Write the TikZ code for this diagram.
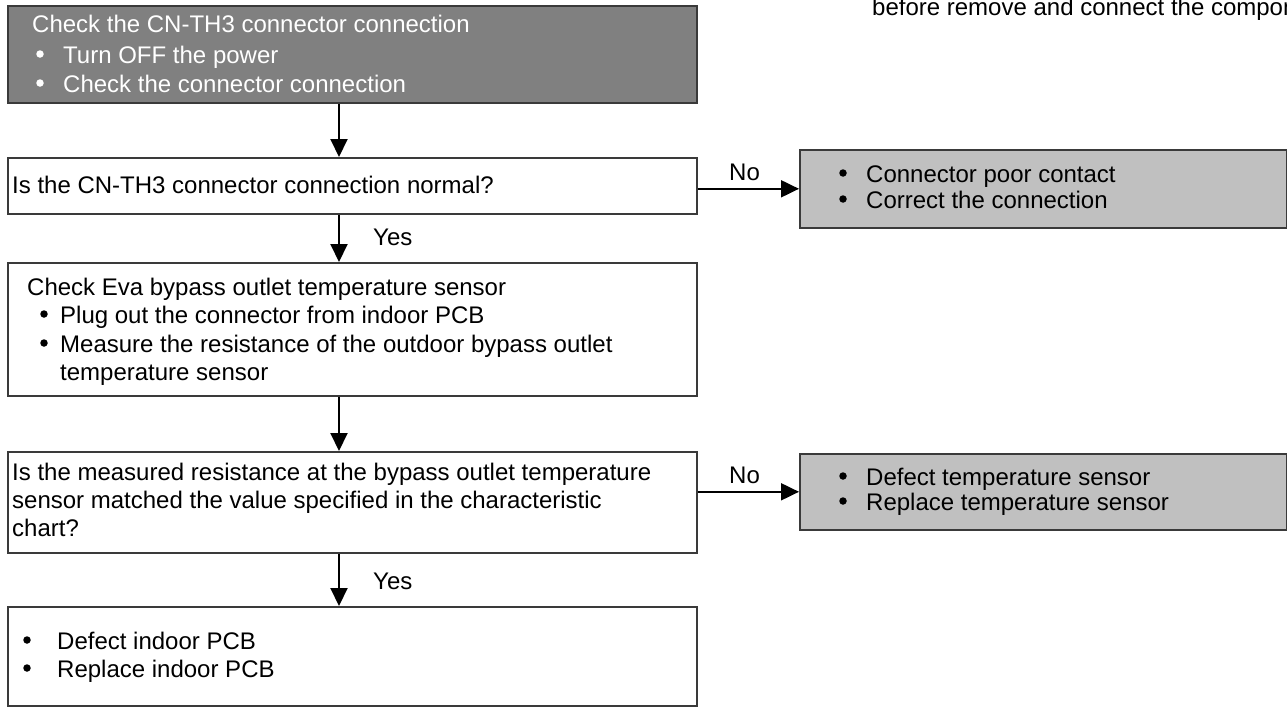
\documentclass[tikz,border=0pt]{standalone}
\usepackage{fontspec}
\setmainfont{Liberation Sans}
\usetikzlibrary{arrows.meta}
\definecolor{boxline}{HTML}{3A3A3A}
\definecolor{darkfill}{HTML}{808080}
\definecolor{lightfill}{HTML}{C0C0C0}
\begin{document}
\begin{tikzpicture}[x=1pt,y=-1pt,
  box/.style={draw=boxline, line width=1.6pt, anchor=north west, inner sep=0pt, fill=white},
  darkbox/.style={box, fill=darkfill},
  lightbox/.style={box, fill=lightfill},
  txt/.style={anchor=base west, inner sep=0pt, font=\fontsize{24}{29}\selectfont},
  bul/.style={circle, fill=black, draw=none, inner sep=0pt, minimum size=7.5pt},
  conn/.style={line width=2pt, -{Triangle[length=18pt,width=17pt]}}
]
\path[use as bounding box] (0,0) rectangle (1287,707);
\clip (0,0) rectangle (1287,707);

% boxes
\node[darkbox, minimum width=689pt, minimum height=97pt] (b1) at (7,5) {};
\node[box, minimum width=689pt, minimum height=56pt] (b2) at (7,157) {};
\node[box, minimum width=689pt, minimum height=133pt] (b3) at (7,262) {};
\node[box, minimum width=689pt, minimum height=101pt] (b4) at (7,451) {};
\node[box, minimum width=689pt, minimum height=99pt] (b5) at (7,606) {};
\node[lightbox, minimum width=487pt, minimum height=78pt] (r1) at (799,149) {};
\node[lightbox, minimum width=487pt, minimum height=76pt] (r2) at (799,453) {};

% top-right note (cut off by the picture edge, as in the source)
\node[txt] (note) at (872,15) {before remove and connect the components};

% box 1 text
\node[txt, text=white] (t1) at (32,32) {Check the CN-TH3 connector connection};
\node[bul, fill=white] (t1b1) at (40,54) {};
\node[txt, text=white] (t1a) at (63,63) {Turn OFF the power};
\node[bul, fill=white] (t1b2) at (40,83) {};
\node[txt, text=white] (t1c) at (63,92) {Check the connector connection};

% box 2 text
\node[txt] (t2) at (12,193) {Is the CN-TH3 connector connection normal?};

% box 3 text
\node[txt] (t3) at (27,295) {Check Eva bypass outlet temperature sensor};
\node[bul] (t3b1) at (44,314) {};
\node[txt] (t3a) at (60,323) {Plug out the connector from indoor PCB};
\node[bul] (t3b2) at (44,343) {};
\node[txt] (t3c) at (60,352) {Measure the resistance of the outdoor bypass outlet};
\node[txt] (t3d) at (60,380) {temperature sensor};

% box 4 text
\node[txt] (t4a) at (12,480) {Is the measured resistance at the bypass outlet temperature};
\node[txt] (t4b) at (12,508) {sensor matched the value specified in the characteristic};
\node[txt] (t4c) at (12,536) {chart?};

% box 5 text
\node[bul] (t5b1) at (27,640) {};
\node[txt] (t5a) at (57,649) {Defect indoor PCB};
\node[bul] (t5b2) at (27,668) {};
\node[txt] (t5c) at (57,677) {Replace indoor PCB};

% right box texts
\node[bul] (r1b1) at (843,173) {};
\node[txt] (r1a) at (866,182) {Connector poor contact};
\node[bul] (r1b2) at (843,199) {};
\node[txt] (r1c) at (866,208) {Correct the connection};
\node[bul] (r2b1) at (843,476) {};
\node[txt] (r2a) at (866,485) {Defect temperature sensor};
\node[bul] (r2b2) at (843,501) {};
\node[txt] (r2c) at (866,510) {Replace temperature sensor};

% connectors
\coordinate (ax) at (339,0);
\draw[conn] (b1.south -| ax) -- (b2.north -| ax);
\draw[conn] (b2.south -| ax) -- (b3.north -| ax);
\draw[conn] (b3.south -| ax) -- (b4.north -| ax);
\draw[conn] (b4.south -| ax) -- (b5.north -| ax);
\draw[conn] (b2.east |- r1.west) -- (r1.west);
\draw[conn] (b4.east |- r2.west) -- (r2.west);

% labels
\node[txt] (no1) at (729,180) {No};
\node[txt] (no2) at (729,483) {No};
\node[txt] (yes1) at (373,245) {Yes};
\node[txt] (yes2) at (373,589) {Yes};
\end{tikzpicture}
\end{document}
